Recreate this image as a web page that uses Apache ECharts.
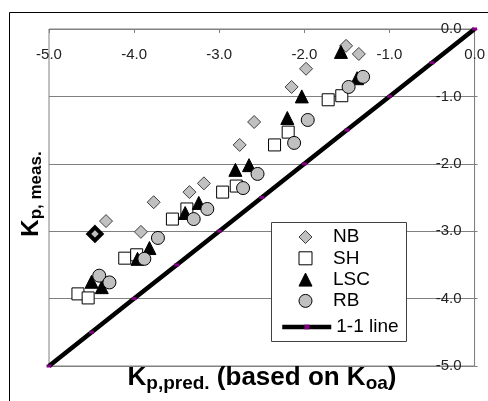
<!DOCTYPE html>
<html><head><meta charset="utf-8">
<script src="https://cdn.jsdelivr.net/npm/echarts@6/dist/echarts.min.js"></script>
<style>html,body{margin:0;padding:0;background:#fff}#c{width:488px;height:401px}</style>
</head><body><div id="c"></div>
<script>
// ---- data ----
const xTickLabels = ['-5.0','-4.0','-3.0','-2.0','-1.0','0.0'];
const yTickLabels = ['-5.0','-4.0','-3.0','-2.0','-1.0','0.0'];
const nbData = [[-4.33,-2.85],[-3.92,-3.01],[-3.77,-2.57],[-3.35,-2.42],[-3.18,-2.29],[-2.76,-1.72],[-2.59,-1.38],[-2.15,-0.86],[-1.98,-0.59],[-1.51,-0.25],[-1.36,-0.37]];
const nbBoldData = [[-4.46,-3.04]];
const shData = [[-4.66,-3.93],[-4.54,-3.99],[-4.11,-3.40],[-3.97,-3.35],[-3.55,-2.82],[-3.38,-2.67],[-2.96,-2.42],[-2.80,-2.33],[-2.35,-1.72],[-2.19,-1.53],[-1.72,-1.05],[-1.56,-0.99]];
const lscData = [[-4.50,-3.75],[-4.38,-3.83],[-3.96,-3.41],[-3.82,-3.25],[-3.40,-2.73],[-3.24,-2.58],[-2.81,-2.09],[-2.65,-2.02],[-2.20,-1.32],[-2.03,-1.00],[-1.57,-0.34],[-1.38,-0.73]];
const rbData = [[-4.41,-3.66],[-4.29,-3.76],[-3.88,-3.41],[-3.72,-3.10],[-3.30,-2.82],[-3.14,-2.67],[-2.72,-2.36],[-2.55,-2.15],[-2.12,-1.69],[-1.96,-1.35],[-1.48,-0.86],[-1.31,-0.71]];
const oneToOneData = [[-5,-5],[-4.5,-4.5],[-4,-4],[-3.5,-3.5],[-3,-3],[-2.5,-2.5],[-2,-2],[-1.5,-1.5],[-1,-1],[-0.5,-0.5],[0,0]];
const seriesNames = ['NB','SH','LSC','RB','1-1 line'];

const FF = '"Liberation Sans", Arial, sans-serif';
const chart = echarts.init(document.getElementById('c'), null, {renderer:'canvas'});
const lab = (arr) => (v) => arr[Math.round(v + 5)] !== undefined ? arr[Math.round(v + 5)] : v.toFixed(1);

chart.setOption({
  animation:false,
  backgroundColor:'#fff',
  grid:{left:49,right:12,top:29,bottom:35,show:true,borderColor:'#808080',borderWidth:1,backgroundColor:'transparent'},
  xAxis:{type:'value',position:'top',min:-5,max:0,interval:1,
    axisLine:{show:true,lineStyle:{color:'#808080',width:1}},
    axisTick:{show:true,inside:true,length:4,lineStyle:{color:'#808080'}},
    axisLabel:{inside:true,margin:18,formatter:lab(xTickLabels),color:'#222',fontSize:15,fontFamily:FF,showMinLabel:true,showMaxLabel:true},
    splitLine:{show:false}},
  yAxis:{type:'value',position:'right',min:-5,max:0,interval:1,
    axisLine:{show:true,lineStyle:{color:'#808080',width:1}},
    axisTick:{show:true,inside:false,length:3,lineStyle:{color:'#808080'}},
    axisLabel:{inside:true,margin:13,formatter:lab(yTickLabels),color:'#222',fontSize:15,fontFamily:FF,showMinLabel:true,showMaxLabel:true},
    splitLine:{show:true,lineStyle:{color:'#808080',width:1}}},
  legend:[
    {data:seriesNames.slice(0,4),orient:'vertical',left:298.5,top:226.5,padding:0,itemGap:0.3,
     itemWidth:13,itemHeight:13,z:6,
     itemStyle:{borderWidth:1},
     textStyle:{fontSize:19,fontFamily:FF,color:'#000',lineHeight:21,padding:[0,0,0,16]}},
    {data:[seriesNames[4]],orient:'vertical',left:280,top:316.5,padding:0,
     itemWidth:49,itemHeight:6,z:6,
     itemStyle:{borderWidth:0,color:'#800080'},lineStyle:{width:4.5,color:'#000'},
     textStyle:{fontSize:19,fontFamily:FF,color:'#000',lineHeight:21}}
  ],
  graphic:[
    {type:'rect',z:-10,silent:true,shape:{x:9.5,y:12.5,width:490,height:400},style:{fill:'none',stroke:'#000',lineWidth:1}},
    {type:'rect',z:3,silent:true,shape:{x:271.5,y:222.5,width:135,height:119},style:{fill:'#fff',stroke:'#404040',lineWidth:1}},
    {type:'text',z:3,x:262,y:378,silent:true,style:{text:'{k|K}{s|p,pred.}{k| (based on K}{s|oa}{k|)}',align:'center',verticalAlign:'middle',fill:'#000',
      rich:{k:{fontSize:26,fontWeight:'bold',fontFamily:FF,lineHeight:30,fill:'#000'},s:{fontSize:19,fontWeight:'bold',fontFamily:FF,lineHeight:19,verticalAlign:'bottom',fill:'#000'}}}},
    {type:'text',z:3,x:31,y:194,rotation:Math.PI/2,silent:true,style:{text:'{k|K}{s|p, meas.}',align:'center',verticalAlign:'middle',fill:'#000',
      rich:{k:{fontSize:24,fontWeight:'bold',fontFamily:FF,lineHeight:28,fill:'#000'},s:{fontSize:17,fontWeight:'bold',fontFamily:FF,lineHeight:17,verticalAlign:'bottom',fill:'#000'}}}}
  ],
  series:[
    {name:'1-1 line',type:'line',data:oneToOneData,z:1,symbol:'rect',symbolSize:[5,3],showSymbol:true,
      lineStyle:{color:'#000',width:4.5},itemStyle:{color:'#800080',borderWidth:0}},
    {name:'NB',type:'scatter',data:nbData,symbol:'diamond',symbolSize:13,z:2,
      itemStyle:{color:'#C0C0C0',borderColor:'#404040',borderWidth:1,opacity:1}},
    {name:'NB*',type:'scatter',data:nbBoldData,symbol:'diamond',symbolSize:13,z:2,
      itemStyle:{color:'#C0C0C0',borderColor:'#000',borderWidth:4,opacity:1}},
    {name:'SH',type:'scatter',data:shData,symbol:'rect',symbolSize:12,z:2,
      itemStyle:{color:'#fff',borderColor:'#000',borderWidth:1,opacity:1}},
    {name:'LSC',type:'scatter',data:lscData,symbol:'triangle',symbolSize:13,z:2,
      itemStyle:{color:'#000',borderColor:'#000',borderWidth:1,opacity:1}},
    {name:'RB',type:'scatter',data:rbData,symbol:'circle',symbolSize:13,z:2,
      itemStyle:{color:'#C0C0C0',borderColor:'#000',borderWidth:1,opacity:1}}
  ]
});
</script></body></html>
